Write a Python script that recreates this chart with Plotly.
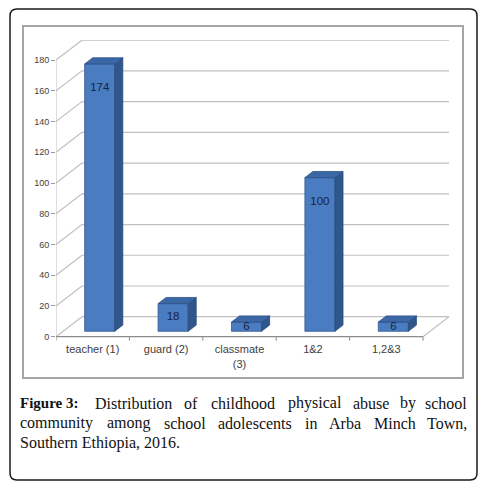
import plotly.graph_objects as go

categories = ["teacher (1)", "guard (2)", "classmate<br>(3)", "1&2", "1,2&3"]
counts = [174, 18, 6, 100, 6]
y_ticks = [0, 20, 40, 60, 80, 100, 120, 140, 160, 180]

caption_line1 = ["Figure", "3:", "Distribution", "of", "childhood", "physical", "abuse", "by", "school"]
caption_line2 = ["community", "among", "school", "adolescents", "in", "Arba", "Minch", "Town,"]
caption_line3 = "Southern Ethiopia, 2016."

# the page body has an 8px margin, so the figure is drawn 8px in from the window corner
OFF = 8
W, H = 492 - OFF, 487 - OFF


def px(x):
    return (x - OFF) / W


def py(y):
    return 1 - (y - OFF) / H


# 3D look: depth offset of the back wall (x in category units, y in value units)
DX, DY = 0.354, 13.0
F, BD, BW = 0.27, 0.31, 0.41   # bar front depth, bar depth, bar width
n = len(categories)
xs = [i + F * DX for i in range(n)]

fig = go.Figure()

fig.add_trace(go.Bar(
    x=xs, y=counts, base=F * DY, width=BW,
    marker=dict(color="#4a7cc1", line=dict(color="#34598f", width=0.8)),
    hoverinfo="skip",
))

# side and top faces of the bars
side_x, side_y, top_x, top_y = [], [], [], []
for x, v in zip(xs, counts):
    r, l, b, t = x + BW / 2, x - BW / 2, F * DY, v + F * DY
    side_x += [r, r + BD * DX, r + BD * DX, r, r, None]
    side_y += [b, b + BD * DY, t + BD * DY, t, b, None]
    top_x += [l, r, r + BD * DX, l + BD * DX, l, None]
    top_y += [t, t, t + BD * DY, t + BD * DY, t, None]

fig.add_trace(go.Scatter(x=side_x, y=side_y, mode="lines", fill="toself",
                         fillcolor="#2f578c", line=dict(color="#2a4d7c", width=0.8),
                         hoverinfo="skip"))
fig.add_trace(go.Scatter(x=top_x, y=top_y, mode="lines", fill="toself",
                         fillcolor="#3b67a6", line=dict(color="#2e5286", width=0.8),
                         hoverinfo="skip"))

# value labels inside the bars
fig.add_trace(go.Scatter(
    x=xs, y=[v + F * DY - min(0.5 * v, 16) for v in counts],
    mode="text", text=[str(v) for v in counts],
    textfont=dict(family="Liberation Sans", size=11.5, color="#17243d"),
    hoverinfo="skip",
))

shapes = []
grid = dict(color="#c0c0c0", width=1.2)
x0, x1 = -0.5, n - 0.5
for t in y_ticks:
    shapes.append(dict(type="line", xref="x", yref="y", x0=x0, y0=t, x1=x0 + DX, y1=t + DY,
                       line=grid, layer="below"))
    shapes.append(dict(type="line", xref="x", yref="y", x0=x0 + DX, y0=t + DY, x1=x1 + DX, y1=t + DY,
                       line=grid, layer="below"))
shapes.append(dict(type="line", xref="x", yref="y", x0=x1, y0=0, x1=x1 + DX, y1=DY,
                   line=grid, layer="below"))
shapes.append(dict(type="line", xref="x", yref="y", x0=x0, y0=0, x1=x0, y1=y_ticks[-1],
                   line=dict(color="#bdbdbd", width=1), layer="below"))
shapes.append(dict(type="line", xref="x", yref="y", x0=x0, y0=0, x1=x1, y1=0,
                   line=dict(color="#8c8c8c", width=1.2), layer="below"))
for k in range(n + 1):
    shapes.append(dict(type="line", xref="x", yref="y", x0=x0 + k, y0=0, x1=x0 + k, y1=-2.6,
                       line=dict(color="#8c8c8c", width=1), layer="below"))

# chart frame and outer rounded box
shapes.append(dict(type="rect", xref="paper", yref="paper", x0=px(23), x1=px(463), y0=py(378), y1=py(26),
                   line=dict(color="#a6a6a6", width=2)))
rx, ry = 7 / W, 7 / H
a, b, c, d = px(10), px(477), py(480), py(9)
path = (f"M {a + rx},{d} L {b - rx},{d} Q {b},{d} {b},{d - ry} L {b},{c + ry} Q {b},{c} {b - rx},{c} "
        f"L {a + rx},{c} Q {a},{c} {a},{c + ry} L {a},{d - ry} Q {a},{d} {a + rx},{d} Z")
shapes.append(dict(type="path", xref="paper", yref="paper", path=path,
                   line=dict(color="#1a1a1a", width=1.5)))

# caption, justified by hand
cap_font = dict(family="Liberation Serif", size=16, color="#111111")
bold_font = dict(family="Liberation Serif", size=15, color="#111111")
pos1 = [18, 72, 133.5, 191, 243, 314.5, 370.5, 407.5, 469]
pos2 = [18, 129, 185, 255, 310.5, 345, 395, 469]
annotations = []
for words, pos, yy in [(caption_line1, pos1, 403), (caption_line2, pos2, 423)]:
    for j, (w, xp) in enumerate(zip(words, pos)):
        anchor = "left" if j == 0 else ("right" if j == len(words) - 1 else "center")
        is_bold = words is caption_line1 and j < 2
        annotations.append(dict(text=f"<b>{w}</b>" if is_bold else w, x=px(xp), y=py(yy),
                                xref="paper", yref="paper", xanchor=anchor, yanchor="middle",
                                showarrow=False, font=bold_font if is_bold else cap_font))
annotations.append(dict(text=caption_line3, x=px(18), y=py(443), xref="paper", yref="paper",
                        xanchor="left", yanchor="middle", showarrow=False, font=cap_font))

fig.update_layout(
    width=W, height=H, margin=dict(l=0, r=0, t=0, b=0, pad=0),
    paper_bgcolor="white", plot_bgcolor="white", showlegend=False,
    shapes=shapes, annotations=annotations,
    xaxis=dict(domain=[px(56), px(449)], range=[x0, x1 + DX], showgrid=False, zeroline=False,
               tickvals=list(range(n)), ticktext=categories, ticks="",
               tickfont=dict(family="Liberation Sans", size=11, color="#404040")),
    yaxis=dict(domain=[py(341.3), py(40)], range=[-3, 193.1], showgrid=False, zeroline=False,
               tickvals=y_ticks, ticks="outside", ticklen=4, tickcolor="#999999",
               tickfont=dict(family="Liberation Sans", size=9, color="#404040")),
)

fig.write_html("out.html")
